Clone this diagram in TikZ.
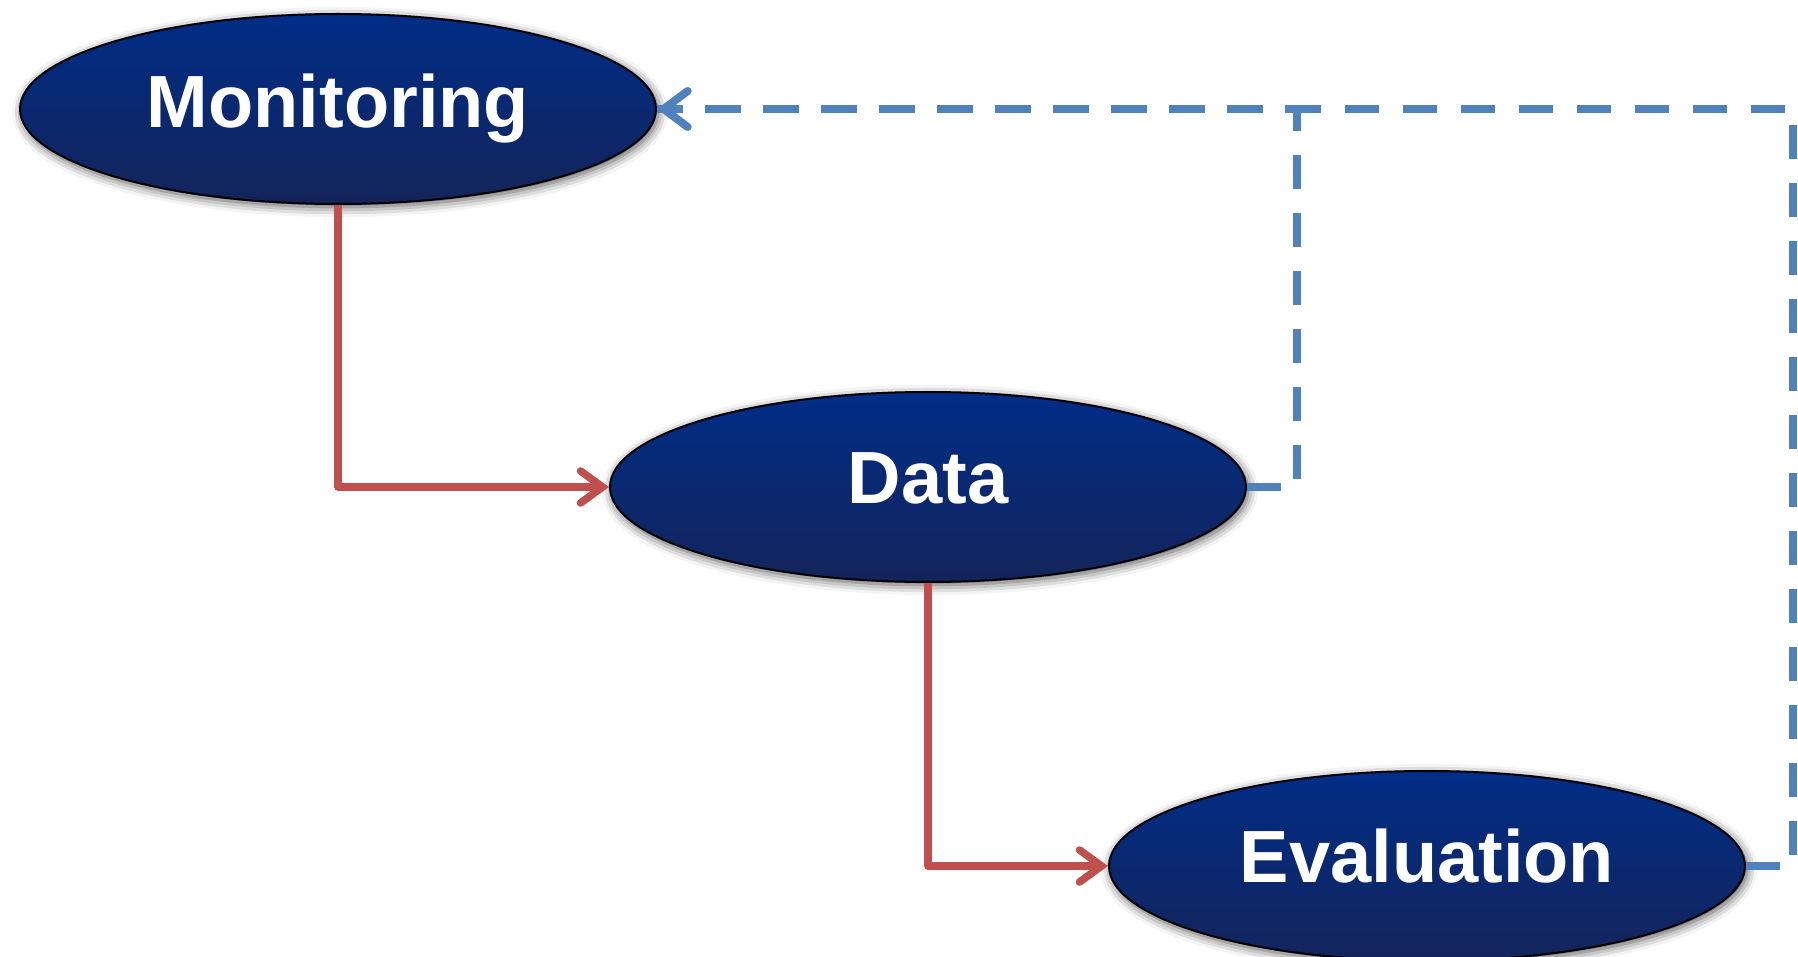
\documentclass[tikz,border=0pt]{standalone}
\usepackage{fontspec}
\setmainfont{Liberation Sans}
\usetikzlibrary{shapes.geometric,arrows.meta,shadows.blur}
\definecolor{ovtop}{RGB}{0,45,135}
\definecolor{ovbot}{RGB}{20,36,90}
\definecolor{linkred}{RGB}{192,80,77}
\definecolor{linkblue}{RGB}{79,129,189}
\tikzset{
  oval/.style={ellipse, draw=black, line width=1pt, inner sep=0pt,
    minimum width=318pt, minimum height=95pt,
    top color=ovtop, bottom color=ovbot, shading angle=0,
    blur shadow={shadow xshift=1pt, shadow yshift=-1.5pt, shadow blur radius=5pt, shadow opacity=70},
    text=white, font=\bfseries\fontsize{37}{40}\selectfont},
  redlink/.style={draw=linkred, line width=3.8pt, line join=round,
    -{Straight Barb[length=11pt,width=16pt,line cap=round]}},
  bluelink/.style={draw=linkblue, line width=4pt, dash pattern=on 17pt off 12pt},
  bluehead/.style={-{Straight Barb[length=12pt,width=18pt,line cap=round]}}
}
\begin{document}
\begin{tikzpicture}[x=0.5pt,y=-0.5pt]
\useasboundingbox (0,0) rectangle (1798,957);
\node[oval] (mon) at (338,109) {\raisebox{5pt}{Monitoring}};
\node[oval] (data) at (928,487) {\raisebox{9pt}{Data}};
\node[oval] (eval) at (1427,866) {\raisebox{10pt}{Evaluation}};
\draw[redlink] (mon.south) |- (data.west);
\draw[redlink] (data.south) |- (eval.west);
\draw[bluelink] (data.east) -- ++(50,0) coordinate (c1) |- (mon.east);
\draw[bluelink] (eval.east) -- ++(47,0) coordinate (c2) |- (mon.east);
\draw[draw=linkblue, line width=4pt, bluehead] ([xshift=10pt]mon.east) -- (mon.east);
\end{tikzpicture}
\end{document}
